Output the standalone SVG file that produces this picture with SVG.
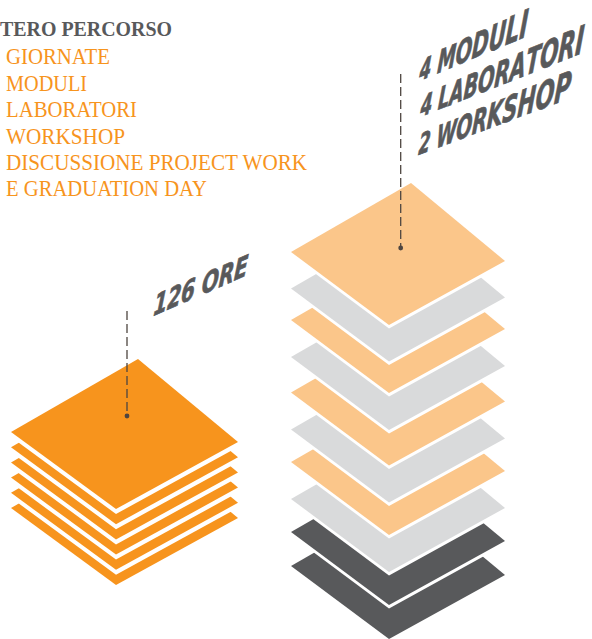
<svg xmlns="http://www.w3.org/2000/svg" xmlns:xlink="http://www.w3.org/1999/xlink" width="592" height="639" viewBox="0 0 592 639">
<style>
.o{fill:#f7941d}
.lo{fill:#fbc68a}
.g{fill:#d9dadb}
.d{fill:#58595b}
.w{fill:#ffffff}
.hd{font-family:"Liberation Serif","DejaVu Serif",serif;font-weight:bold;font-size:22px;fill:#58595b}
.li{font-family:"Liberation Serif","DejaVu Serif",serif;font-size:23px;fill:#f7941d}
.iso{font-family:"DejaVu Sans Condensed","DejaVu Sans","Liberation Sans",sans-serif;font-weight:bold;font-style:italic;font-size:28px;fill:#58595b;stroke:#58595b;stroke-width:0.7}
.dash{stroke:#4e4540;stroke-width:1.3;stroke-dasharray:9 4;fill:none}
.dot{fill:#4e4540}
</style>
<defs>
<polygon id="dl" points="11,432 138,359 238,442 116,509"/>
<polygon id="dr" points="291,252 411,183 505,261 389,325"/>
</defs>
<rect width="592" height="639" fill="#ffffff"/>

<g id="legend">
<text class="hd" x="0" y="36" textLength="172" lengthAdjust="spacingAndGlyphs">TERO PERCORSO</text>
<text class="li" x="6" y="64" textLength="104" lengthAdjust="spacingAndGlyphs">GIORNATE</text>
<text class="li" x="6" y="90.5" textLength="81" lengthAdjust="spacingAndGlyphs">MODULI</text>
<text class="li" x="6" y="117" textLength="131" lengthAdjust="spacingAndGlyphs">LABORATORI</text>
<text class="li" x="6" y="143.5" textLength="119" lengthAdjust="spacingAndGlyphs">WORKSHOP</text>
<text class="li" x="6" y="170" textLength="301" lengthAdjust="spacingAndGlyphs">DISCUSSIONE PROJECT WORK</text>
<text class="li" x="6" y="196" textLength="201" lengthAdjust="spacingAndGlyphs">E GRADUATION DAY</text>
</g>

<g id="stack-left">
<use xlink:href="#dl" class="o" transform="translate(0,76)"/>
<use xlink:href="#dl" class="w" transform="translate(0,65.8)"/>
<use xlink:href="#dl" class="o" transform="translate(0,60.8)"/>
<use xlink:href="#dl" class="w" transform="translate(0,50.6)"/>
<use xlink:href="#dl" class="o" transform="translate(0,45.6)"/>
<use xlink:href="#dl" class="w" transform="translate(0,35.4)"/>
<use xlink:href="#dl" class="o" transform="translate(0,30.4)"/>
<use xlink:href="#dl" class="w" transform="translate(0,20.2)"/>
<use xlink:href="#dl" class="o" transform="translate(0,15.2)"/>
<use xlink:href="#dl" class="w" transform="translate(0,5)"/>
<use xlink:href="#dl" class="o"/>
</g>

<g id="stack-right">
<use xlink:href="#dr" class="d" transform="translate(0,314)"/>
<use xlink:href="#dr" class="w" transform="translate(0,283.5)"/>
<use xlink:href="#dr" class="d" transform="translate(0,280)"/>
<use xlink:href="#dr" class="w" transform="translate(0,250.5)"/>
<use xlink:href="#dr" class="g" transform="translate(0,247)"/>
<use xlink:href="#dr" class="w" transform="translate(0,213.5)"/>
<use xlink:href="#dr" class="lo" transform="translate(0,210)"/>
<use xlink:href="#dr" class="w" transform="translate(0,181)"/>
<use xlink:href="#dr" class="g" transform="translate(0,177.5)"/>
<use xlink:href="#dr" class="w" transform="translate(0,144)"/>
<use xlink:href="#dr" class="lo" transform="translate(0,140.5)"/>
<use xlink:href="#dr" class="w" transform="translate(0,108.5)"/>
<use xlink:href="#dr" class="g" transform="translate(0,105)"/>
<use xlink:href="#dr" class="w" transform="translate(0,71.5)"/>
<use xlink:href="#dr" class="lo" transform="translate(0,68)"/>
<use xlink:href="#dr" class="w" transform="translate(0,40)"/>
<use xlink:href="#dr" class="g" transform="translate(0,36.5)"/>
<use xlink:href="#dr" class="w" transform="translate(0,3.5)"/>
<use xlink:href="#dr" class="lo"/>
</g>

<g id="label-ore" transform="translate(153,316) skewY(-23.5) skewX(-5)">
<text class="iso" x="0" y="0" font-size="30" textLength="94" lengthAdjust="spacingAndGlyphs">126 ORE</text>
</g>

<g id="label-moduli">
<g transform="translate(419,81) skewY(-22.5) skewX(-5)">
<text class="iso" x="0" y="0" textLength="108" lengthAdjust="spacingAndGlyphs"><tspan font-size="28">4</tspan><tspan font-size="29.4"> </tspan><tspan font-size="30.9">M</tspan><tspan font-size="32.3">O</tspan><tspan font-size="33.7">D</tspan><tspan font-size="35.1">U</tspan><tspan font-size="36.6">L</tspan><tspan font-size="37.5">I</tspan></text>
</g>
<g transform="translate(420,117) skewY(-21.5) skewX(-5)">
<text class="iso" x="0" y="0" textLength="163" lengthAdjust="spacingAndGlyphs"><tspan font-size="28">4</tspan><tspan font-size="28.9"> </tspan><tspan font-size="29.8">L</tspan><tspan font-size="30.7">A</tspan><tspan font-size="31.6">B</tspan><tspan font-size="32.5">O</tspan><tspan font-size="33.5">R</tspan><tspan font-size="34.4">A</tspan><tspan font-size="35.3">T</tspan><tspan font-size="36.2">O</tspan><tspan font-size="37.1">R</tspan><tspan font-size="38">I</tspan></text>
</g>
<g transform="translate(418,155) skewY(-20.5) skewX(-5)">
<text class="iso" x="0" y="0" textLength="152" lengthAdjust="spacingAndGlyphs"><tspan font-size="28">2</tspan><tspan font-size="29.1"> </tspan><tspan font-size="30.2">W</tspan><tspan font-size="31.3">O</tspan><tspan font-size="32.4">R</tspan><tspan font-size="33.6">K</tspan><tspan font-size="34.7">S</tspan><tspan font-size="35.8">H</tspan><tspan font-size="36.9">O</tspan><tspan font-size="38">P</tspan></text>
</g>
</g>

<g id="connectors">
<line class="dash" x1="127" y1="311" x2="127" y2="416"/>
<circle class="dot" cx="127" cy="416" r="2.4"/>
<line class="dash" x1="400.7" y1="74" x2="400.7" y2="248"/>
<circle class="dot" cx="400.7" cy="248" r="2.4"/>
</g>
</svg>
